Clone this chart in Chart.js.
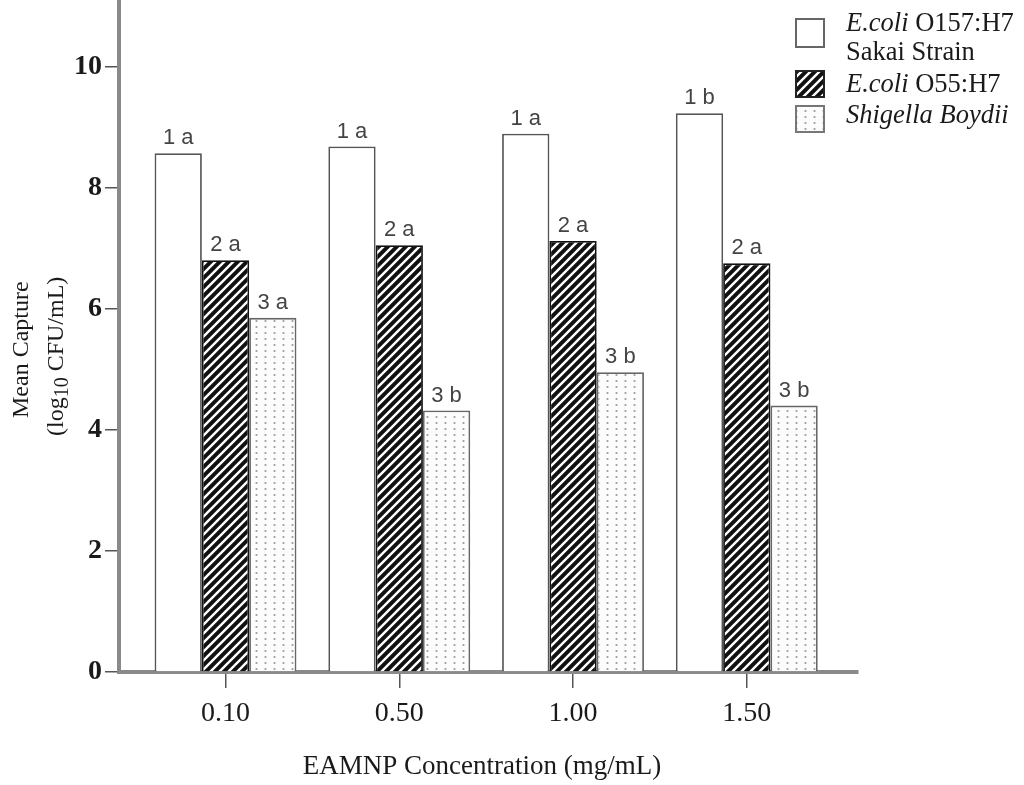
<!DOCTYPE html>
<html>
<head>
<meta charset="utf-8">
<script src="https://cdn.jsdelivr.net/npm/chart.js@4.4.1/dist/chart.umd.min.js"></script>
<style>
html, body { margin: 0; padding: 0; background: #fff; }
#wrap { width: 1024px; height: 785px; position: relative; }
</style>
</head>
<body>
<div id="wrap"><canvas id="grafico"></canvas></div>
<script>
const concentracoes = ['0.10', '0.50', '1.00', '1.50'];
const o157 = [8.57, 8.68, 8.89, 9.23];
const o55 = [6.80, 7.05, 7.12, 6.75];
const shigella = [5.85, 4.32, 4.95, 4.40];
const rotulosO157 = ['1 a', '1 a', '1 a', '1 b'];
const rotulosO55 = ['2 a', '2 a', '2 a', '2 a'];
const rotulosShigella = ['3 a', '3 b', '3 b', '3 b'];
const ticksY = [0, 2, 4, 6, 8, 10];

const rotulos = [rotulosO157, rotulosO55, rotulosShigella];
const serif = '"Liberation Serif", "Times New Roman", serif';

const ctx = document.getElementById('grafico').getContext('2d');

function padraoListras(){
    const c = document.createElement('canvas');
    const s = 9;
    c.width = s; c.height = s;
    const g = c.getContext('2d');
    g.fillStyle = '#111';
    g.fillRect(0, 0, s, s);
    g.strokeStyle = '#fff';
    g.lineWidth = 2.4;
    g.beginPath();
    g.moveTo(0, s); g.lineTo(s, 0);
    g.moveTo(-2, 2); g.lineTo(2, -2);
    g.moveTo(s - 2, s + 2); g.lineTo(s + 2, s - 2);
    g.stroke();
    return ctx.createPattern(c, 'repeat');
}
function padraoPontos(){
    const c = document.createElement('canvas');
    c.width = 9; c.height = 6;
    const g = c.getContext('2d');
    g.fillStyle = '#fcfcfc';
    g.fillRect(0, 0, 9, 6);
    g.fillStyle = '#9a9a9a';
    g.beginPath(); g.arc(4.5, 3, 1.1, 0, Math.PI * 2); g.fill();
    return ctx.createPattern(c, 'repeat');
}
const listras = padraoListras();
const pontos = padraoPontos();
const pares = arr => arr.map((v, i) => ({x: i, y: v}));

function textoMisto(c, partes, x, y, tam){
    partes.forEach(p => {
        c.font = (p[1] ? 'italic ' : '') + tam + 'px ' + serif;
        c.fillText(p[0], x, y);
        x += c.measureText(p[0]).width;
    });
}

const anotacoes = {
    id: 'anotacoes',
    afterDraw(chart){
        const c = chart.ctx;
        c.save();
        // letras acima das barras
        c.font = '22px "Liberation Sans", Arial, sans-serif';
        c.fillStyle = '#444';
        c.textAlign = 'center';
        c.textBaseline = 'bottom';
        chart.data.datasets.forEach((ds, d) => {
            chart.getDatasetMeta(d).data.forEach((bar, i) => {
                c.fillText(rotulos[d][i], bar.x, bar.y - 4);
            });
        });

        // legenda
        const caixas = [
            {y: 18, h: 30, fill: '#fff', borda: '#666'},
            {y: 70, h: 28, fill: listras, borda: '#222'},
            {y: 105, h: 28, fill: pontos, borda: '#777'}
        ];
        caixas.forEach(b => {
            c.fillStyle = b.fill;
            c.fillRect(795, b.y, 30, b.h);
            c.strokeStyle = b.borda;
            c.lineWidth = 2;
            c.strokeRect(796, b.y + 1, 28, b.h - 2);
        });
        c.fillStyle = '#1a1a1a';
        c.textAlign = 'left';
        c.textBaseline = 'middle';
        textoMisto(c, [['E.coli', true], [' O157:H7', false]], 846, 24, 26.5);
        textoMisto(c, [['Sakai Strain', false]], 846, 53, 26.5);
        textoMisto(c, [['E.coli', true], [' O55:H7', false]], 846, 85, 26.5);
        textoMisto(c, [['Shigella Boydii', true]], 846, 116, 26.5);

        // titulo do eixo y
        c.textBaseline = 'alphabetic';
        c.save();
        c.translate(28, 418);
        c.rotate(-Math.PI / 2);
        c.font = '24px ' + serif;
        c.fillText('Mean Capture', 0, 0);
        c.restore();
        c.save();
        c.translate(63, 436);
        c.rotate(-Math.PI / 2);
        let x = 0;
        c.font = '24px ' + serif;
        c.fillText('(log', x, 0);
        x += c.measureText('(log').width;
        c.font = '20px ' + serif;
        c.fillText('10', x, 5);
        x += c.measureText('10').width;
        c.font = '24px ' + serif;
        c.fillText(' CFU/mL)', x, 0);
        c.restore();

        // titulo do eixo x
        c.font = '27px ' + serif;
        c.textAlign = 'center';
        c.textBaseline = 'middle';
        c.fillText('EAMNP Concentration (mg/mL)', 482, 767);
        c.restore();
    }
};

new Chart(ctx, {
    type: 'bar',
    data: {
        datasets: [
            {label: 'E.coli O157:H7 Sakai Strain', data: pares(o157), backgroundColor: '#fff', borderColor: '#555', borderWidth: 1.8},
            {label: 'E.coli O55:H7', data: pares(o55), backgroundColor: listras, borderColor: '#111', borderWidth: 1.8},
            {label: 'Shigella Boydii', data: pares(shigella), backgroundColor: pontos, borderColor: '#666', borderWidth: 1.8}
        ]
    },
    options: {
        responsive: true,
        maintainAspectRatio: false,
        animation: false,
        categoryPercentage: 0.8165,
        barPercentage: 1,
        layout: {padding: {left: 0, top: 0, right: 166, bottom: 0}},
        plugins: {legend: {display: false}, tooltip: {enabled: false}},
        scales: {
            x: {
                type: 'linear', min: -0.613, max: 3.64, offset: false, bounds: 'data',
                afterBuildTicks: s => { s.ticks = concentracoes.map((_, i) => ({value: i})); },
                afterFit: s => { s.height = 113; s.paddingLeft = 0; s.paddingRight = 0; },
                grid: {display: true, drawOnChartArea: false, drawTicks: true, tickLength: 16, color: '#555', lineWidth: 1.5, offset: false},
                border: {display: true, color: '#8a8a8a', width: 4},
                ticks: {callback: v => concentracoes[v], font: {family: serif, size: 28}, color: '#1a1a1a', padding: 9, maxRotation: 0, autoSkip: false}
            },
            y: {
                min: 0, max: 11.1,
                afterBuildTicks: s => { s.ticks = ticksY.map(v => ({value: v})); },
                afterFit: s => { s.width = 119; s.paddingTop = 0; s.paddingBottom = 0; },
                grid: {display: true, drawOnChartArea: false, drawTicks: true, tickLength: 14, color: '#555', lineWidth: 1.5},
                border: {display: true, color: '#8a8a8a', width: 4},
                ticks: {font: {family: serif, size: 28, weight: 'bold'}, color: '#1a1a1a', padding: 3}
            }
        }
    },
    plugins: [anotacoes]
});
</script>
</body>
</html>
